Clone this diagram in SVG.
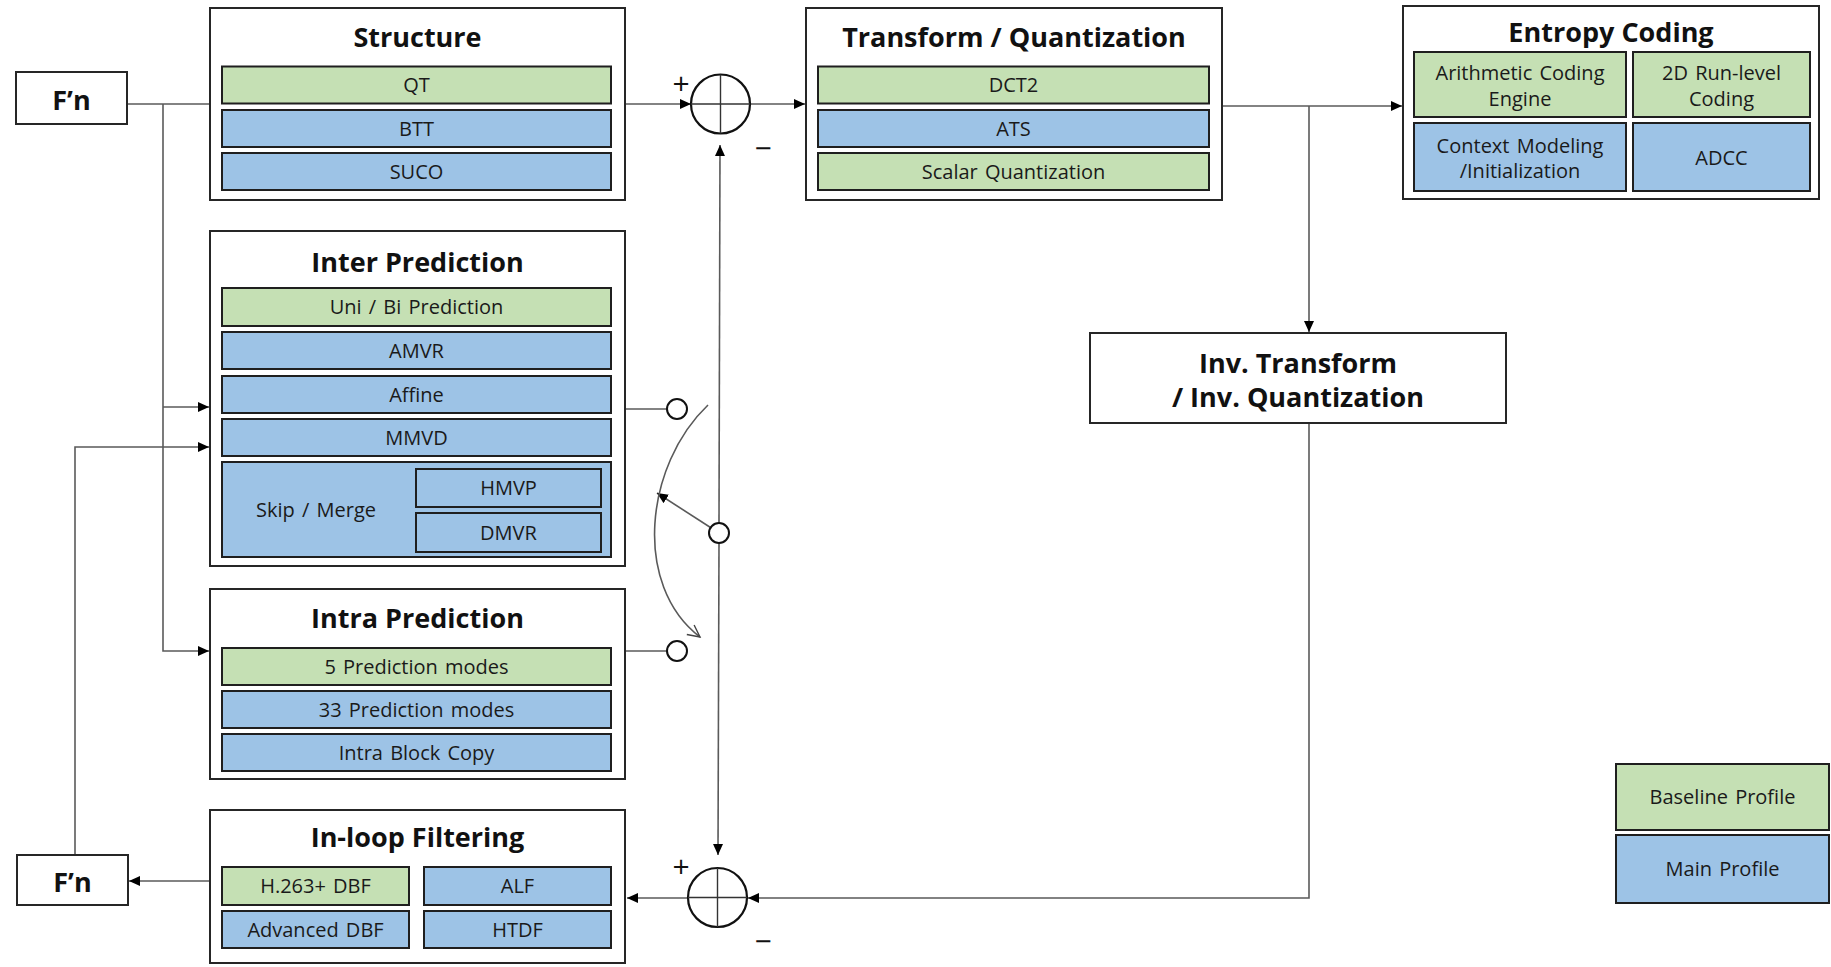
<svg xmlns="http://www.w3.org/2000/svg" width="1831" height="967" viewBox="0 0 1831 967">
  <style>
    .box { fill: #ffffff; stroke: #262626; stroke-width: 2; }
    .base { fill: #c5e0b4; stroke: #1f1f1f; stroke-width: 2; }
    .main { fill: #9dc3e6; stroke: #1f1f1f; stroke-width: 2; }
    .title { font-family: "Open Sans", "Liberation Sans", sans-serif; font-weight: bold; font-size: 27px; fill: #111; text-anchor: middle; }
    .big { font-family: "Open Sans", "Liberation Sans", sans-serif; font-weight: bold; font-size: 27px; fill: #111; text-anchor: middle; }
    .lbl { font-family: "Open Sans", "Liberation Sans", sans-serif; font-size: 20px; fill: #1a1a1a; text-anchor: middle; word-spacing: 2px; }
    .sign { font-family: "Open Sans", "Liberation Sans", sans-serif; font-size: 30px; fill: #111; text-anchor: middle; }
    .wire { fill: none; stroke: #5a5a5a; stroke-width: 1.6; }
    .ring { fill: #ffffff; stroke: #111; stroke-width: 2.2; }
    .knob { fill: #ffffff; stroke: #111; stroke-width: 2; }
  </style>
  <defs>
    <marker id="arr" markerUnits="userSpaceOnUse" markerWidth="12" markerHeight="10" refX="11" refY="5" orient="auto">
      <path d="M0,0 L11,5 L0,10 z" fill="#000"/>
    </marker>
    <marker id="open" markerUnits="userSpaceOnUse" markerWidth="16" markerHeight="16" refX="13" refY="8" orient="auto">
      <path d="M1,2 L13,8 L1,14" fill="none" stroke="#444" stroke-width="1.4"/>
    </marker>
  </defs>

  <!-- connectors -->
  <g id="connectors">
    <!-- input frame to adder and prediction blocks -->
    <line class="wire" x1="127" y1="104" x2="691" y2="104" marker-end="url(#arr)"/>
    <polyline class="wire" points="163,104 163,651 209,651" marker-end="url(#arr)"/>
    <line class="wire" x1="163" y1="407" x2="209" y2="407" marker-end="url(#arr)"/>
    <!-- reference frame feedback -->
    <polyline class="wire" points="75,855 75,447 209,447" marker-end="url(#arr)"/>
    <!-- adder to transform, transform to entropy -->
    <line class="wire" x1="750" y1="104" x2="805" y2="104" marker-end="url(#arr)"/>
    <line class="wire" x1="1222" y1="106" x2="1402" y2="106" marker-end="url(#arr)"/>
    <line class="wire" x1="1309" y1="106" x2="1309" y2="332" marker-end="url(#arr)"/>
    <!-- reconstruction path -->
    <polyline class="wire" points="1309,423 1309,898 748,898" marker-end="url(#arr)"/>
    <line class="wire" x1="688" y1="898" x2="627" y2="898" marker-end="url(#arr)"/>
    <line class="wire" x1="210" y1="881" x2="129" y2="881" marker-end="url(#arr)"/>
    <!-- prediction outputs to selector -->
    <line class="wire" x1="625" y1="409" x2="667" y2="409"/>
    <line class="wire" x1="625" y1="651" x2="667" y2="651"/>
    <line class="wire" x1="719" y1="523" x2="720" y2="145" marker-end="url(#arr)"/>
    <line class="wire" x1="719" y1="543" x2="718" y2="855" marker-end="url(#arr)"/>
    <line class="wire" x1="710.5" y1="527.5" x2="657" y2="493" marker-end="url(#arr)"/>
    <path class="wire" d="M708,405 C645,465 632,585 700,637" stroke="#444" stroke-width="1.4" marker-end="url(#open)"/>
  </g>

  <!-- adders and switch -->
  <g id="adder-top">
    <circle class="ring" cx="720.5" cy="104" r="29.5"/>
    <line x1="691" y1="104" x2="750" y2="104" stroke="#333" stroke-width="1.4"/>
    <line x1="720.5" y1="74.5" x2="720.5" y2="133.5" stroke="#333" stroke-width="1.4"/>
    <text class="sign" x="681" y="94">+</text>
    <text class="sign" x="763" y="159">−</text>
  </g>
  <g id="adder-bottom">
    <circle class="ring" cx="717.5" cy="897.5" r="29.5"/>
    <line x1="688" y1="897.5" x2="747" y2="897.5" stroke="#333" stroke-width="1.4"/>
    <line x1="717.5" y1="868" x2="717.5" y2="927" stroke="#333" stroke-width="1.4"/>
    <text class="sign" x="681" y="877">+</text>
    <text class="sign" x="763" y="952">−</text>
  </g>
  <g id="switch">
    <circle class="knob" cx="677" cy="409" r="10"/>
    <circle class="knob" cx="677" cy="651" r="10"/>
    <circle class="knob" cx="719" cy="533" r="10"/>
  </g>

  <!-- frame buffers -->
  <g id="frame-in">
    <rect class="box" x="16" y="72" width="111" height="52"/>
    <text class="big" x="71.5" y="110">F’n</text>
  </g>
  <g id="frame-out">
    <rect class="box" x="17" y="855" width="111" height="50"/>
    <text class="big" x="72.5" y="892">F’n</text>
  </g>

  <!-- structure -->
  <g id="structure">
    <rect class="box" x="210" y="8" width="415" height="192"/>
    <text class="title" x="417.5" y="47">Structure</text>
    <rect class="base" x="222" y="66.5" width="389" height="37"/>
    <text class="lbl" x="416.5" y="92">QT</text>
    <rect class="main" x="222" y="110" width="389" height="37"/>
    <text class="lbl" x="416.5" y="135.5">BTT</text>
    <rect class="main" x="222" y="153" width="389" height="37"/>
    <text class="lbl" x="416.5" y="178.5">SUCO</text>
  </g>

  <!-- transform / quantization -->
  <g id="transform">
    <rect class="box" x="806" y="8" width="416" height="192"/>
    <text class="title" x="1014" y="47">Transform / Quantization</text>
    <rect class="base" x="818" y="66.5" width="391" height="37"/>
    <text class="lbl" x="1013.5" y="92">DCT2</text>
    <rect class="main" x="818" y="110" width="391" height="37"/>
    <text class="lbl" x="1013.5" y="135.5">ATS</text>
    <rect class="base" x="818" y="153" width="391" height="37"/>
    <text class="lbl" x="1013.5" y="178.5">Scalar Quantization</text>
  </g>

  <!-- entropy coding -->
  <g id="entropy">
    <rect class="box" x="1403" y="6" width="416" height="193"/>
    <text class="title" x="1611" y="42">Entropy Coding</text>
    <rect class="base" x="1414" y="52" width="212" height="65"/>
    <text class="lbl" x="1520" y="80">Arithmetic Coding</text>
    <text class="lbl" x="1520" y="105.5">Engine</text>
    <rect class="base" x="1633" y="52" width="177" height="65"/>
    <text class="lbl" x="1721.5" y="80">2D Run-level</text>
    <text class="lbl" x="1721.5" y="105.5">Coding</text>
    <rect class="main" x="1414" y="123" width="212" height="68"/>
    <text class="lbl" x="1520" y="152.5">Context Modeling</text>
    <text class="lbl" x="1520" y="178">/Initialization</text>
    <rect class="main" x="1633" y="123" width="177" height="68"/>
    <text class="lbl" x="1721.5" y="165">ADCC</text>
  </g>

  <!-- inverse transform -->
  <g id="inv-transform">
    <rect class="box" x="1090" y="333" width="416" height="90"/>
    <text class="big" x="1298" y="373">Inv. Transform</text>
    <text class="big" x="1298" y="407">/ Inv. Quantization</text>
  </g>

  <!-- inter prediction -->
  <g id="inter">
    <rect class="box" x="210" y="231" width="415" height="335"/>
    <text class="title" x="417.5" y="272">Inter Prediction</text>
    <rect class="base" x="222" y="288" width="389" height="38"/>
    <text class="lbl" x="416.5" y="314">Uni / Bi Prediction</text>
    <rect class="main" x="222" y="332" width="389" height="37"/>
    <text class="lbl" x="416.5" y="357.5">AMVR</text>
    <rect class="main" x="222" y="376" width="389" height="37"/>
    <text class="lbl" x="416.5" y="401.5">Affine</text>
    <rect class="main" x="222" y="419" width="389" height="37"/>
    <text class="lbl" x="416.5" y="444.5">MMVD</text>
    <rect class="main" x="222" y="462" width="389" height="95"/>
    <text class="lbl" x="316" y="517">Skip / Merge</text>
    <rect class="main" x="416" y="469" width="185" height="38"/>
    <text class="lbl" x="508.5" y="495">HMVP</text>
    <rect class="main" x="416" y="513" width="185" height="39"/>
    <text class="lbl" x="508.5" y="539.5">DMVR</text>
  </g>

  <!-- intra prediction -->
  <g id="intra">
    <rect class="box" x="210" y="589" width="415" height="190"/>
    <text class="title" x="417.5" y="628">Intra Prediction</text>
    <rect class="base" x="222" y="648" width="389" height="37"/>
    <text class="lbl" x="416.5" y="673.5">5 Prediction modes</text>
    <rect class="main" x="222" y="691" width="389" height="37"/>
    <text class="lbl" x="416.5" y="716.5">33 Prediction modes</text>
    <rect class="main" x="222" y="734" width="389" height="37"/>
    <text class="lbl" x="416.5" y="759.5">Intra Block Copy</text>
  </g>

  <!-- in-loop filtering -->
  <g id="inloop">
    <rect class="box" x="210" y="810" width="415" height="153"/>
    <text class="title" x="417.5" y="847">In-loop Filtering</text>
    <rect class="base" x="222" y="867" width="187" height="38"/>
    <text class="lbl" x="315.5" y="893">H.263+ DBF</text>
    <rect class="main" x="424" y="867" width="187" height="38"/>
    <text class="lbl" x="517.5" y="893">ALF</text>
    <rect class="main" x="222" y="911" width="187" height="37"/>
    <text class="lbl" x="315.5" y="936.5">Advanced DBF</text>
    <rect class="main" x="424" y="911" width="187" height="37"/>
    <text class="lbl" x="517.5" y="936.5">HTDF</text>
  </g>

  <!-- legend -->
  <g id="legend">
    <rect class="base" x="1616" y="764" width="213" height="66"/>
    <text class="lbl" x="1722.5" y="804">Baseline Profile</text>
    <rect class="main" x="1616" y="835" width="213" height="68"/>
    <text class="lbl" x="1722.5" y="876">Main Profile</text>
  </g>
</svg>
